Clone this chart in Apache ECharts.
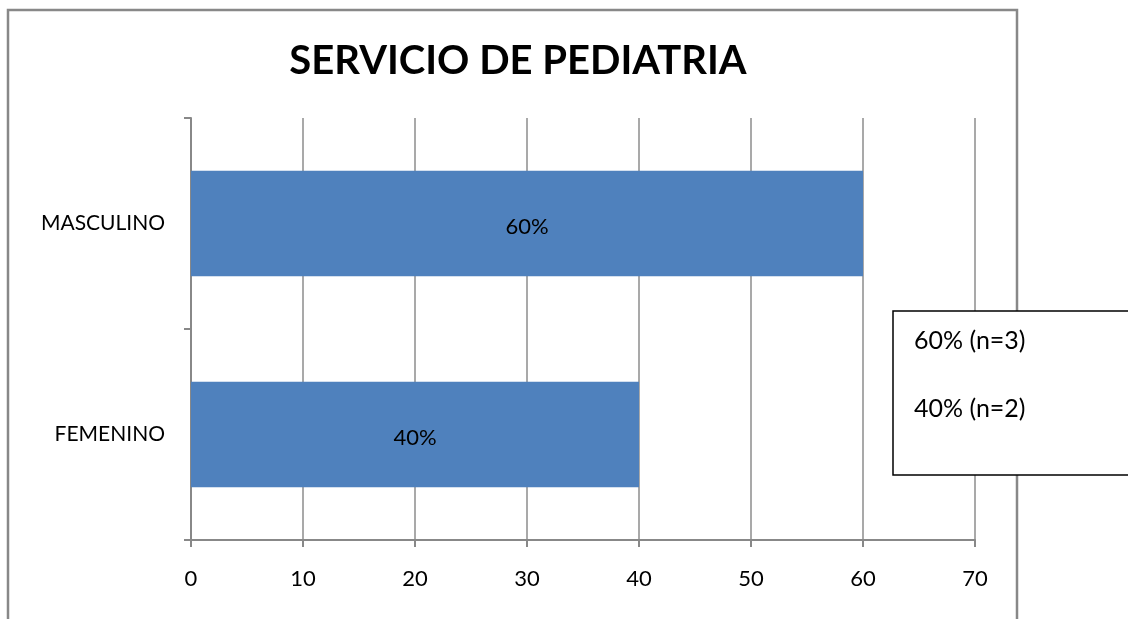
<!DOCTYPE html>
<html>
<head>
<meta charset="utf-8">
<script src="https://cdn.jsdelivr.net/npm/echarts@6/dist/echarts.min.js"></script>
<style>
  html, body { margin: 0; padding: 0; background: #fff; }
  #chart { width: 1128px; height: 619px; }
</style>
</head>
<body>
<div id="chart"></div>
<script>
// data
const categories = ['FEMENINO', 'MASCULINO'];
const values = [40, 60];
const boxLines = ['60% (n=3)', '40% (n=2)'];

const font = 'Lato, "Open Sans", sans-serif';
const chart = echarts.init(document.getElementById('chart'));

const option = {
  animation: false,
  title: {
    text: 'SERVICIO DE PEDIATRIA',
    left: 513,
    top: 36,
    textAlign: 'center',
    textStyle: { fontFamily: font, fontSize: 40, fontWeight: 'bold', color: '#000' }
  },
  grid: { left: 191, right: 153, top: 118, bottom: 79 },
  xAxis: {
    type: 'value',
    min: 0,
    max: 70,
    interval: 10,
    axisLine: { show: true, lineStyle: { color: '#888', width: 2 } },
    axisTick: { show: true, length: 7, lineStyle: { color: '#888', width: 2 } },
    splitLine: { show: true, lineStyle: { color: '#8c8c8c', width: 1.5 } },
    axisLabel: { margin: 28, fontFamily: font, fontSize: 22, color: '#000' }
  },
  yAxis: {
    type: 'category',
    data: categories,
    axisLine: { show: true, lineStyle: { color: '#888', width: 2 } },
    axisTick: { show: true, length: 7, lineStyle: { color: '#888', width: 2 } },
    axisLabel: { margin: 26, fontFamily: font, fontSize: 21, color: '#000', padding: [6, 0, 0, 0] }
  },
  series: [{
    type: 'bar',
    data: values,
    barWidth: '50%',
    itemStyle: { color: '#4F81BD' },
    label: {
      show: true,
      position: 'inside',
      formatter: '{c}%',
      fontFamily: font,
      fontSize: 22,
      color: '#000',
      offset: [0, 3]
    }
  }],
  graphic: [
    {
      type: 'rect',
      shape: { x: 8, y: 10, width: 1009, height: 640 },
      style: { fill: 'none', stroke: '#888', lineWidth: 2.5 },
      silent: true,
      z: 1
    },
    {
      type: 'rect',
      shape: { x: 893, y: 311, width: 245, height: 164 },
      style: { fill: '#fff', stroke: '#000', lineWidth: 1.5 },
      z: 100
    },
    ...boxLines.map((t, i) => ({
      type: 'text',
      x: 914,
      y: 341 + i * 68,
      z: 101,
      style: {
        text: t,
        fontFamily: font,
        fontSize: 25,
        fill: '#000',
        textVerticalAlign: 'middle'
      }
    }))
  ]
};

chart.setOption(option);
</script>
</body>
</html>
